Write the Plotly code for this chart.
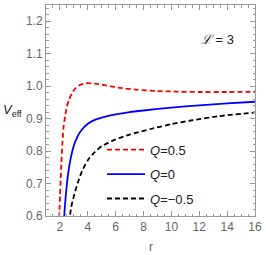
import plotly.graph_objects as go

# Q = 0.5 (red dashed)
r_red = [1.93, 1.97, 2.01, 2.05, 2.1, 2.17, 2.25, 2.36, 2.5, 2.65, 2.85, 3.1, 3.45, 3.9, 4.5, 5.2, 6.3, 7.5, 9.0, 10.5, 12.0, 14.0, 16.0]
v_red = [0.57, 0.62, 0.665, 0.71, 0.76, 0.82, 0.87, 0.905, 0.937, 0.958, 0.977, 0.993, 1.004, 1.009, 1.008, 1.003, 0.995, 0.989, 0.985, 0.983, 0.982, 0.982, 0.983]

# Q = 0 (blue solid)
r_blue = [2.27, 2.3, 2.35, 2.4, 2.5, 2.6, 2.75, 3.0, 3.25, 3.5, 4.0, 4.5, 5.0, 6.0, 7.0, 8.0, 10.0, 12.0, 14.0, 16.0]
v_blue = [0.572, 0.594, 0.626, 0.654, 0.699, 0.734, 0.773, 0.817, 0.844, 0.862, 0.884, 0.896, 0.903, 0.913, 0.920, 0.925, 0.934, 0.941, 0.947, 0.952]

# Q = -0.5 (black dashed)
r_black = [2.68, 2.72, 2.8, 2.9, 3.07, 3.3, 3.6, 4.0, 4.5, 5.0, 6.0, 7.0, 8.5, 10.0, 11.5, 13.3, 16.0]
v_black = [0.58, 0.60, 0.625, 0.645, 0.672, 0.705, 0.74, 0.772, 0.797, 0.815, 0.836, 0.851, 0.868, 0.883, 0.895, 0.907, 0.919]

x_ticks = [2, 4, 6, 8, 10, 12, 14, 16]
y_ticks = [0.6, 0.7, 0.8, 0.9, 1.0, 1.1, 1.2]

FONT = "Liberation Sans, Arial, sans-serif"
GRAY = "#999999"
TXT = "#666666"

fig = go.Figure()
fig.add_trace(go.Scatter(x=r_red, y=v_red, mode="lines", name="<i>Q</i>=0.5", legendgroup="a",
                         line=dict(color="#ff0000", width=1.8, dash="5px,3px", shape="spline", smoothing=0.6)))
fig.add_trace(go.Scatter(x=r_blue, y=v_blue, mode="lines", name="<i>Q</i>=0", legendgroup="b",
                         line=dict(color="#0000ff", width=1.8, shape="spline", smoothing=0.6)))
fig.add_trace(go.Scatter(x=r_black, y=v_black, mode="lines", name="<i>Q</i>=\u22120.5", legendgroup="c",
                         line=dict(color="#000000", width=1.8, dash="5px,3px", shape="spline", smoothing=0.6)))

axis_common = dict(showline=True, linecolor=GRAY, linewidth=1, mirror="ticks",
                   ticks="inside", ticklen=5, tickcolor=GRAY, showgrid=False, zeroline=False,
                   tickfont=dict(family=FONT, size=12, color=TXT))

fig.update_xaxes(range=[1, 16], tickvals=x_ticks, ticktext=[str(t) for t in x_ticks],
                 minor=dict(dtick=0.5, ticklen=2.5, tickcolor=GRAY, ticks="inside", showgrid=False),
                 **axis_common)
fig.update_yaxes(range=[0.6, 1.25], tickvals=y_ticks, ticktext=[f"{t:.1f}" for t in y_ticks],
                 minor=dict(dtick=0.02, ticklen=2.5, tickcolor=GRAY, ticks="inside", showgrid=False),
                 **axis_common)

fig.add_annotation(xref="paper", yref="y", x=-0.16, y=0.925, xanchor="center", yanchor="middle",
                   text="<i>V</i><sub>eff</sub>", showarrow=False,
                   font=dict(family=FONT, size=13, color="#222222"))
fig.add_annotation(xref="paper", yref="paper", x=0.5, y=-0.105, xanchor="center", yanchor="top",
                   text="r", showarrow=False,
                   font=dict(family=FONT, size=12, color=TXT))
fig.add_annotation(xref="x", yref="y", x=13.3, y=1.145, xanchor="center", yanchor="middle",
                   text="<i>\u2112</i> = 3", showarrow=False,
                   font=dict(family=FONT, size=13, color="#222222"))

fig.update_layout(width=266, height=255, margin=dict(l=46, r=8, t=4, b=39),
                  plot_bgcolor="white", paper_bgcolor="white",
                  showlegend=True,
                  legend=dict(x=0.268, y=0.385, xanchor="left", yanchor="top",
                              bgcolor="rgba(0,0,0,0)", borderwidth=0,
                              font=dict(family=FONT, size=13, color="#222222"),
                              itemwidth=38, tracegroupgap=4.5, traceorder="grouped"))
fig.write_html("out.html", config={"displayModeBar": False},
               post_script="document.body.style.margin='0';document.body.style.overflow='hidden';")
